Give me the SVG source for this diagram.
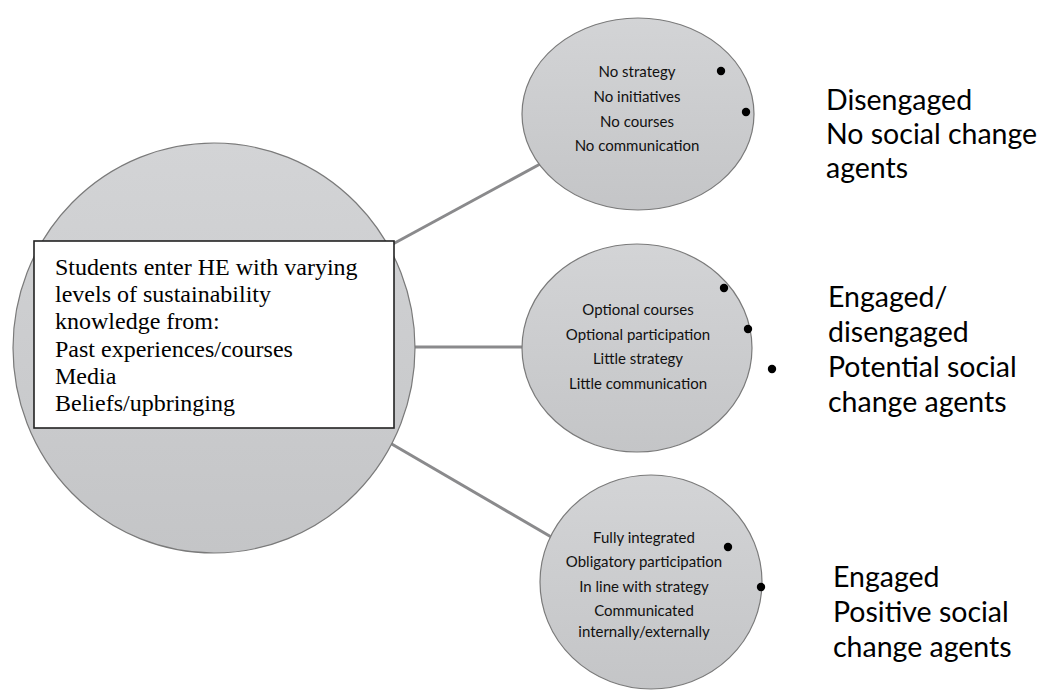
<svg xmlns="http://www.w3.org/2000/svg" width="1054" height="692" viewBox="0 0 1054 692">
<defs>
<linearGradient id="g" x1="0" y1="0" x2="0" y2="1">
<stop offset="0" stop-color="#d3d4d6"/>
<stop offset="1" stop-color="#c4c5c7"/>
</linearGradient>
<style>
.c{fill:url(#g);stroke:#7a7a7a;stroke-width:1.2}
.ln{stroke:#8a8a8c;stroke-width:3;fill:none}
.s{font-family:Lato,"Liberation Sans",sans-serif;font-size:15px;fill:#111;text-anchor:middle}
.b{font-family:Lato,"Liberation Sans",sans-serif;font-size:28.5px;fill:#000}
.t{font-family:"Liberation Serif","Times New Roman",serif;font-size:24px;fill:#000}
.d{fill:#000}
</style>
</defs>
<rect width="1054" height="692" fill="#fff"/>
<g id="connectors">
<line class="ln" x1="380" y1="251" x2="542" y2="163"/>
<line class="ln" x1="410" y1="347" x2="525" y2="347"/>
<line class="ln" x1="390" y1="443" x2="553" y2="538"/>
</g>
<g id="students">
<ellipse class="c" cx="214" cy="348" rx="201" ry="205"/>
<rect x="34" y="241" width="360" height="187" fill="#fff" stroke="#222" stroke-width="1.6"/>
<text class="t" x="55" y="275">Students enter HE with varying</text>
<text class="t" x="55" y="302">levels of sustainability</text>
<text class="t" x="55" y="329">knowledge from:</text>
<text class="t" x="55" y="357">Past experiences/courses</text>
<text class="t" x="55" y="384">Media</text>
<text class="t" x="55" y="411">Beliefs/upbringing</text>
</g>
<g id="top">
<ellipse class="c" cx="638" cy="114" rx="116" ry="96"/>
<text class="s" x="637" y="77">No strategy</text>
<text class="s" x="637" y="102">No initiatives</text>
<text class="s" x="637" y="127">No courses</text>
<text class="s" x="637" y="151">No communication</text>
<circle class="d" cx="721" cy="71" r="4.2"/>
<circle class="d" cx="746" cy="112" r="4.2"/>
</g>
<g id="middle">
<ellipse class="c" cx="637" cy="348" rx="115" ry="104"/>
<text class="s" x="638" y="315">Optional courses</text>
<text class="s" x="638" y="340">Optional participation</text>
<text class="s" x="638" y="364">Little strategy</text>
<text class="s" x="638" y="389">Little communication</text>
<circle class="d" cx="724" cy="288" r="4.2"/>
<circle class="d" cx="748" cy="329" r="4.2"/>
<circle class="d" cx="772" cy="369" r="4.2"/>
</g>
<g id="bottom">
<ellipse class="c" cx="651" cy="582" rx="111" ry="107"/>
<text class="s" x="644" y="543">Fully integrated</text>
<text class="s" x="644" y="567">Obligatory participation</text>
<text class="s" x="644" y="592">In line with strategy</text>
<text class="s" x="644" y="616">Communicated</text>
<text class="s" x="644" y="637">internally/externally</text>
<circle class="d" cx="728" cy="547" r="4.2"/>
<circle class="d" cx="761" cy="587" r="4.2"/>
</g>
<g id="labels">
<text class="b" x="826" y="110">Disengaged</text>
<text class="b" x="826" y="144">No social change</text>
<text class="b" x="826" y="178">agents</text>
<text class="b" x="828" y="307">Engaged/</text>
<text class="b" x="828" y="342">disengaged</text>
<text class="b" x="828" y="377">Potential social</text>
<text class="b" x="828" y="412">change agents</text>
<text class="b" x="833" y="587">Engaged</text>
<text class="b" x="833" y="622">Positive social</text>
<text class="b" x="833" y="657">change agents</text>
</g>
</svg>
